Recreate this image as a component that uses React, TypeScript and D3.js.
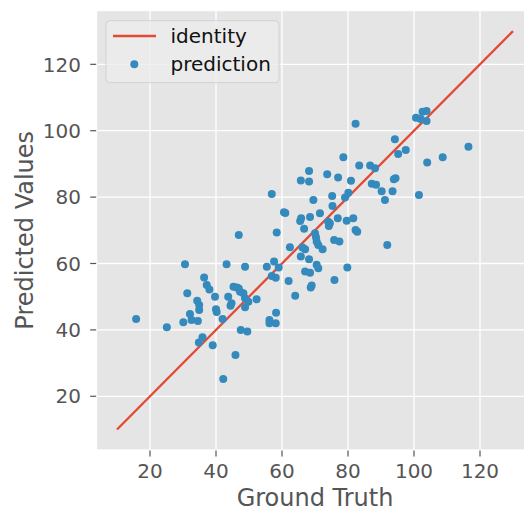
import * as React from "react";
import * as d3 from "d3";

const truth = [
  15.8, 25.1, 30.6, 31.3, 30.1, 32.1, 32.6, 34.3, 34.9, 34.9, 34.5, 36.4, 37.2, 38.0,
  39.7, 40.0, 40.2, 34.8, 35.9, 39.0, 42.0, 42.2, 43.2, 43.7, 44.7, 45.3, 46.3, 46.9,
  46.9, 45.9, 44.4, 47.5, 49.5, 48.8, 48.3, 48.8, 48.8, 49.8, 47.3, 52.3, 55.4, 56.9,
  56.2, 56.2, 58.1, 58.2, 56.9, 58.1, 57.6, 58.4, 59.0, 60.6, 61.0, 62.0, 62.4, 64.0,
  65.5, 65.8, 65.7, 65.7, 66.2, 67.0, 66.7, 67.0, 68.2, 68.2, 68.5, 68.2, 68.5, 68.7,
  69.0, 69.5, 70.0, 70.3, 70.5, 71.0, 70.5, 71.0, 71.5, 72.3, 73.7, 74.0, 74.2, 74.5,
  75.2, 75.3, 75.8, 75.9, 77.0, 76.9, 77.4, 78.6, 79.1, 80.1, 79.6, 79.8, 80.9, 81.6,
  82.3, 82.8, 82.3, 83.4, 86.7, 87.2, 88.2, 88.5, 90.2, 91.2, 91.9, 93.5, 93.9, 94.4,
  94.2, 95.2, 97.5, 100.6, 101.5, 102.6, 103.8, 102.0, 103.8, 104.0, 108.7, 116.5,
];
const predicted = [
  43.3, 40.8, 59.8, 51.0, 42.3, 44.8, 43.0, 48.8, 47.5, 46.0, 42.7, 55.8, 53.5, 52.2,
  50.0, 46.2, 45.4, 36.2, 37.8, 35.4, 43.3, 25.2, 59.8, 50.0, 48.0, 53.0, 52.8, 52.5,
  68.6, 32.4, 47.3, 40.0, 39.5, 59.0, 51.0, 49.5, 46.8, 48.5, 51.5, 49.2, 59.0, 80.9,
  43.0, 42.0, 42.0, 45.2, 56.2, 55.7, 60.6, 69.3, 58.8, 75.4, 75.2, 54.7, 64.9, 50.3,
  72.8, 73.6, 85.0, 62.1, 64.8, 64.3, 70.5, 57.6, 87.9, 84.7, 74.0, 61.3, 57.2, 52.8,
  53.4, 79.1, 69.1, 67.9, 66.6, 65.6, 59.6, 58.6, 75.1, 64.3, 86.9, 72.6, 71.3, 72.1,
  80.3, 77.3, 67.1, 55.0, 85.9, 73.6, 66.6, 92.0, 79.9, 81.3, 72.9, 58.8, 84.9, 73.6,
  70.1, 69.6, 102.1, 89.5, 89.5, 84.0, 88.7, 83.7, 81.8, 79.1, 65.6, 81.8, 85.4, 85.7,
  97.4, 93.0, 94.2, 103.9, 80.6, 105.7, 105.9, 103.5, 102.9, 90.4, 92.0, 95.2,
];
const identityRange = [10, 130];
const xTicks = [20, 40, 60, 80, 100, 120];
const yTicks = [20, 40, 60, 80, 100, 120];
const legendLabels = ["identity", "prediction"];

const W = 524;
const H = 511;
const left = 97.2;
const right = 532.8;
const top = 11.2;
const bottom = 449.4;

const RED = "#E24A33";
const BLUE = "#348ABD";
const GRAY = "#555555";
const FONT = "DejaVu Sans, sans-serif";

export default function App() {
  const x = d3.scaleLinear().domain([4, 136]).range([left, right]);
  const y = d3.scaleLinear().domain([4, 136]).range([bottom, top]);

  const line = d3
    .line<number>()
    .x((d) => x(d))
    .y((d) => y(d));

  const points = truth.map((t, i) => [t, predicted[i]]);

  return (
    <svg
      width={W}
      height={H}
      style={{ position: "absolute", left: 0, top: 0, background: "#fff" }}
      fontFamily={FONT}
    >
      <defs>
        <clipPath id="plot">
          <rect x={left} y={top} width={right - left} height={bottom - top} />
        </clipPath>
      </defs>
      <rect x={left} y={top} width={right - left} height={bottom - top} fill="#E5E5E5" />

      {/* grid */}
      {xTicks.map((t) => (
        <line key={"gx" + t} x1={x(t)} x2={x(t)} y1={top} y2={bottom} stroke="#fff" strokeWidth={1.3} />
      ))}
      {yTicks.map((t) => (
        <line key={"gy" + t} x1={left} x2={right} y1={y(t)} y2={y(t)} stroke="#fff" strokeWidth={1.3} />
      ))}

      <g clipPath="url(#plot)">
        <path d={line(identityRange) || ""} stroke={RED} strokeWidth={2.3} fill="none" />
        {points.map(([t, p], i) => (
          <circle key={i} cx={x(t)} cy={y(p)} r={4} fill={BLUE} />
        ))}
      </g>

      {/* x axis */}
      {xTicks.map((t) => (
        <g key={"tx" + t}>
          <line x1={x(t)} x2={x(t)} y1={bottom + 1} y2={bottom + 7} stroke={GRAY} strokeWidth={1.2} />
          <text x={x(t)} y={478} textAnchor="middle" fontSize={20} fill={GRAY}>
            {t}
          </text>
        </g>
      ))}
      <text x={(left + right) / 2} y={506} textAnchor="middle" fontSize={24} fill={GRAY}>
        Ground Truth
      </text>

      {/* y axis */}
      {yTicks.map((t) => (
        <g key={"ty" + t}>
          <line x1={left - 7} x2={left - 1} y1={y(t)} y2={y(t)} stroke={GRAY} strokeWidth={1.2} />
          <text x={81} y={y(t)} dy="0.36em" textAnchor="end" fontSize={20} fill={GRAY}>
            {t}
          </text>
        </g>
      ))}
      <text
        transform={`translate(33,${(top + bottom) / 2}) rotate(-90)`}
        textAnchor="middle"
        fontSize={24}
        fill={GRAY}
      >
        Predicted Values
      </text>

      {/* legend */}
      <g>
        <rect x={106} y={20.7} width={173} height={62} rx={4} fill="#ececec" fillOpacity={0.8} stroke="#d2d2d2" />
        <line x1={113} x2={156} y1={36} y2={36} stroke={RED} strokeWidth={2.3} />
        <circle cx={134.3} cy={64.3} r={4} fill={BLUE} />
        <text x={170.5} y={43.3} fontSize={20} fill="#111">
          {legendLabels[0]}
        </text>
        <text x={170.5} y={71} fontSize={20} fill="#111">
          {legendLabels[1]}
        </text>
      </g>
    </svg>
  );
}
